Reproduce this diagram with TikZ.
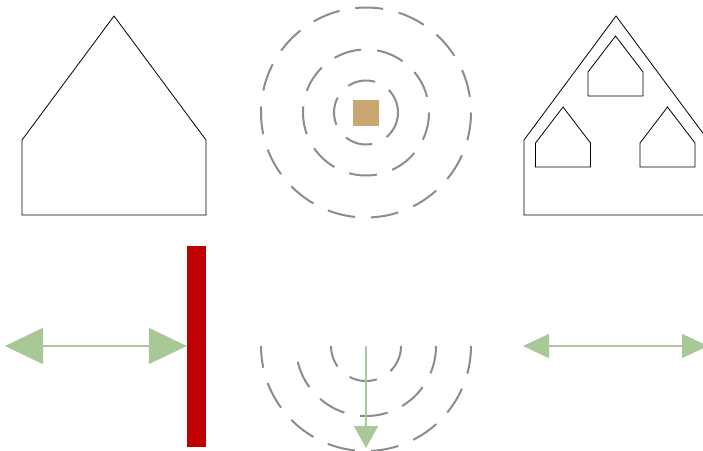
\documentclass[tikz,border=0pt]{standalone}
\usepackage{xcolor}
\usepackage{tikz}
\usetikzlibrary{arrows.meta}
\definecolor{wallred}   {RGB}{192,  0,   0}
\definecolor{wavegray}  {RGB}{140, 140, 140}
\definecolor{raygreen}  {RGB}{169, 200, 152}
\definecolor{sourcetan} {RGB}{200, 168, 112}

\begin{document}
\begin{tikzpicture}[x=1pt,y=-1pt,
    house/.style={draw=black,line width=0.8pt},
    wave/.style={draw=wavegray,line width=2pt,dash pattern=on 28pt off 16pt},
    ray/.style={draw=raygreen,line width=1.6pt}]
      \useasboundingbox (0,0) rectangle (703,450);
      \clip (0,0) rectangle (703,450);
      % empty house
      \draw[house] (22,215) -- (22,140) -- (114,16) -- (206,140) -- (206,215) -- cycle;
      % source and its waves
      \node[fill=sourcetan,minimum size=26pt,inner sep=0pt] (source) at (366,112.5) {};
      \foreach \r in {32,63,105}
        \draw[wave] (source.center) circle[radius=\r];
      % house with three rooms
      \draw[house] (524,215) -- (524,140) -- (616,16) -- (708,140) -- (708,215) -- cycle;
      \foreach \x/\y in {615.5/36,563/107,667.5/107}
        \draw[house] ({\x-27.5},{\y+60}) -- ({\x-27.5},{\y+36}) -- (\x,\y)
          -- ({\x+27.5},{\y+36}) -- ({\x+27.5},{\y+60}) -- cycle;
      % wall and reflected ray
      \node[fill=wallred,minimum width=19pt,minimum height=201pt,inner sep=0pt] (wall) at (196.5,346.5) {};
      \coordinate (incoming) at (5,346);
      \draw[ray,{Triangle[length=38pt,width=36pt]}-{Triangle[length=38pt,width=36pt]}]
        (incoming) -- (wall.west |- incoming);
      % half waves going down
      \coordinate (emitter) at (366,346);
      \coordinate (ground) at (366,448);
      \foreach \r in {35,70,105}
        \draw[wave] ({366+\r},346) arc[start angle=0,end angle=180,radius=\r];
      \draw[ray,-{Triangle[length=22pt,width=24pt]}] (emitter) -- (ground);
      % free ray
      \coordinate (rayleft) at (523,346);
      \coordinate (rayright) at (708,346);
      \draw[ray,{Triangle[length=26pt,width=24pt]}-{Triangle[length=26pt,width=24pt]}]
        (rayleft) -- (rayright);
\end{tikzpicture}
\end{document}
